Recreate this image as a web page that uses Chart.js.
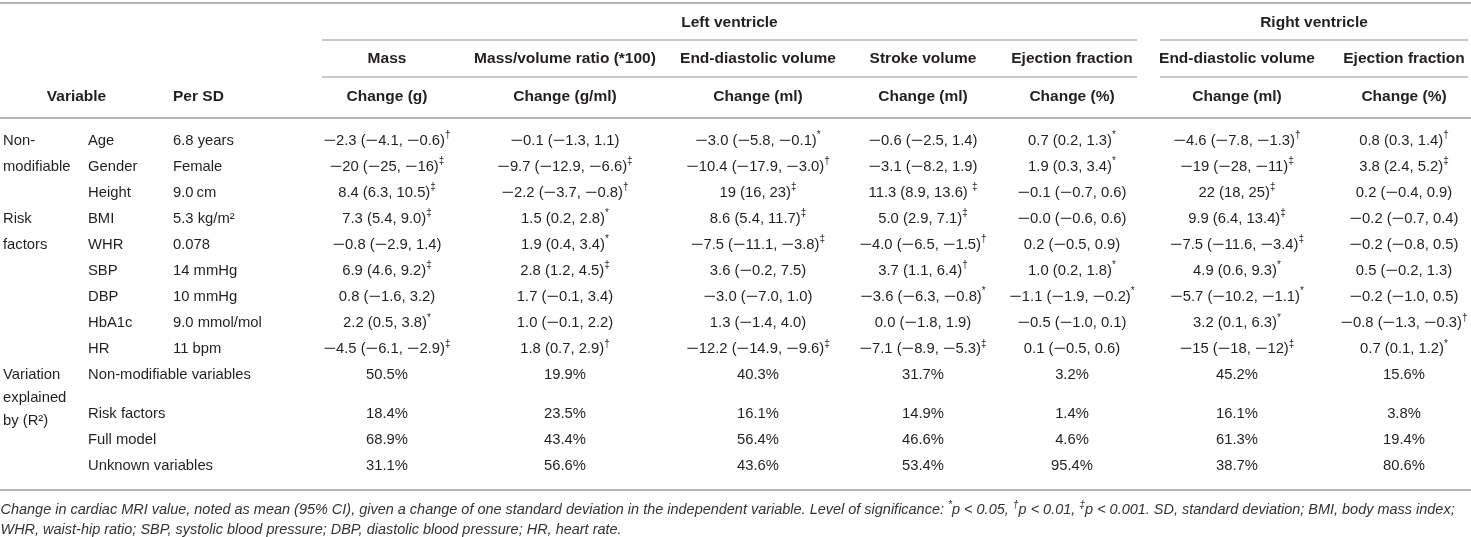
<!DOCTYPE html>
<html>
<head>
<meta charset="utf-8">
<script src="https://cdn.jsdelivr.net/npm/chart.js@4.4.1/dist/chart.umd.min.js"></script>
<style>
  html, body { margin: 0; padding: 0; background: #fff; }
  #wrap { width: 1471px; height: 537px; position: relative; }
</style>
</head>
<body>
<div id="wrap"><canvas id="c"></canvas></div>
<script>
// ---------------- DATA ----------------
const groups = ["Left ventricle", "Right ventricle"];
const measures = ["Mass", "Mass/volume ratio (*100)", "End-diastolic volume", "Stroke volume", "Ejection fraction", "End-diastolic volume", "Ejection fraction"];
const units = ["Change (g)", "Change (g/ml)", "Change (ml)", "Change (ml)", "Change (%)", "Change (ml)", "Change (%)"];
const headVariable = "Variable";
const headPerSD = "Per SD";
const sectionNonMod = ["Non-", "modifiable"];
const sectionRisk = ["Risk", "factors"];
const sectionR2 = ["Variation", "explained", "by (R\u00B2)"];
const variables = ["Age", "Gender", "Height", "BMI", "WHR", "SBP", "DBP", "HbA1c", "HR"];
const perSD = ["6.8 years", "Female", "9.0\u2009cm", "5.3 kg/m\u00B2", "0.078", "14 mmHg", "10 mmHg", "9.0 mmol/mol", "11 bpm"];
const r2Labels = ["Non-modifiable variables", "Risk factors", "Full model", "Unknown variables"];

const lvMass = ["\u22122.3 (\u22124.1, \u22120.6)\u2020", "\u221220 (\u221225, \u221216)\u2021", "8.4 (6.3, 10.5)\u2021", "7.3 (5.4, 9.0)\u2021", "\u22120.8 (\u22122.9, 1.4)", "6.9 (4.6, 9.2)\u2021", "0.8 (\u22121.6, 3.2)", "2.2 (0.5, 3.8)*", "\u22124.5 (\u22126.1, \u22122.9)\u2021"];
const lvMassVol = ["\u22120.1 (\u22121.3, 1.1)", "\u22129.7 (\u221212.9, \u22126.6)\u2021", "\u22122.2 (\u22123.7, \u22120.8)\u2020", "1.5 (0.2, 2.8)*", "1.9 (0.4, 3.4)*", "2.8 (1.2, 4.5)\u2021", "1.7 (\u22120.1, 3.4)", "1.0 (\u22120.1, 2.2)", "1.8 (0.7, 2.9)\u2020"];
const lvEDV = ["\u22123.0 (\u22125.8, \u22120.1)*", "\u221210.4 (\u221217.9, \u22123.0)\u2020", "19 (16, 23)\u2021", "8.6 (5.4, 11.7)\u2021", "\u22127.5 (\u221211.1, \u22123.8)\u2021", "3.6 (\u22120.2, 7.5)", "\u22123.0 (\u22127.0, 1.0)", "1.3 (\u22121.4, 4.0)", "\u221212.2 (\u221214.9, \u22129.6)\u2021"];
const lvSV = ["\u22120.6 (\u22122.5, 1.4)", "\u22123.1 (\u22128.2, 1.9)", "11.3 (8.9, 13.6) \u2021", "5.0 (2.9, 7.1)\u2021", "\u22124.0 (\u22126.5, \u22121.5)\u2020", "3.7 (1.1, 6.4)\u2020", "\u22123.6 (\u22126.3, \u22120.8)*", "0.0 (\u22121.8, 1.9)", "\u22127.1 (\u22128.9, \u22125.3)\u2021"];
const lvEF = ["0.7 (0.2, 1.3)*", "1.9 (0.3, 3.4)*", "\u22120.1 (\u22120.7, 0.6)", "\u22120.0 (\u22120.6, 0.6)", "0.2 (\u22120.5, 0.9)", "1.0 (0.2, 1.8)*", "\u22121.1 (\u22121.9, \u22120.2)*", "\u22120.5 (\u22121.0, 0.1)", "0.1 (\u22120.5, 0.6)"];
const rvEDV = ["\u22124.6 (\u22127.8, \u22121.3)\u2020", "\u221219 (\u221228, \u221211)\u2021", "22 (18, 25)\u2021", "9.9 (6.4, 13.4)\u2021", "\u22127.5 (\u221211.6, \u22123.4)\u2021", "4.9 (0.6, 9.3)*", "\u22125.7 (\u221210.2, \u22121.1)*", "3.2 (0.1, 6.3)*", "\u221215 (\u221218, \u221212)\u2021"];
const rvEF = ["0.8 (0.3, 1.4)\u2020", "3.8 (2.4, 5.2)\u2021", "0.2 (\u22120.4, 0.9)", "\u22120.2 (\u22120.7, 0.4)", "\u22120.2 (\u22120.8, 0.5)", "0.5 (\u22120.2, 1.3)", "\u22120.2 (\u22121.0, 0.5)", "\u22120.8 (\u22121.3, \u22120.3)\u2020", "0.7 (0.1, 1.2)*"];

const r2Mass = ["50.5%", "18.4%", "68.9%", "31.1%"];
const r2MassVol = ["19.9%", "23.5%", "43.4%", "56.6%"];
const r2LvEDV = ["40.3%", "16.1%", "56.4%", "43.6%"];
const r2LvSV = ["31.7%", "14.9%", "46.6%", "53.4%"];
const r2LvEF = ["3.2%", "1.4%", "4.6%", "95.4%"];
const r2RvEDV = ["45.2%", "16.1%", "61.3%", "38.7%"];
const r2RvEF = ["15.6%", "3.8%", "19.4%", "80.6%"];

const footnote1 = "Change in cardiac MRI value, noted as mean (95% CI), given a change of one standard deviation in the independent variable. Level of significance: *p < 0.05, \u2020p < 0.01, \u2021p < 0.001. SD, standard deviation; BMI, body mass index;";
const footnote2 = "WHR, waist-hip ratio; SBP, systolic blood pressure; DBP, diastolic blood pressure; HR, heart rate.";

// ---------------- LAYOUT (positions / styles) ----------------
const W = 1471, H = 537;
const colX = [387, 565, 758, 923, 1072, 1237, 1404];
const groupSpan = [[322, 1137], [1160, 1468]];
const xSection = 3, xVar = 88, xPerSD = 173, xVarHead = 76.5;
const yGroup = 22.5, yGroupLine = 40, yMeasure = 59, yMeasureLine = 77, yUnit = 97, yHeadLine = 118;
const yTop = 3, yBottom = 490;
const rowY = [140.5, 166.5, 192.5, 218.5, 244.5, 270.5, 296.5, 323, 349];
const r2RowY = [375, 414, 439.5, 466];
const sectionNonModY = [140.5, 166.5];
const sectionRiskY = [218.5, 244.5];
const sectionR2Y = [375, 398, 420.5];
const footY = [509.5, 529.5];

const FONT = '"Liberation Sans", Arial, Helvetica, sans-serif';
const TEXT = '#231f20';
const RULE = '#b4b4b4';
const bodyPx = 14.8, supPx = 10, headPx = 15.5;
const MINUS_STRETCH = 1.45;

const valueCols = [lvMass, lvMassVol, lvEDV, lvSV, lvEF, rvEDV, rvEF];
const r2Cols = [r2Mass, r2MassVol, r2LvEDV, r2LvSV, r2LvEF, r2RvEDV, r2RvEF];

// build datasets from arrays
const datasets = [];
valueCols.forEach((col, c) => {
  const pts = col.map((t, i) => ({ x: colX[c], y: rowY[i], t }));
  r2Cols[c].forEach((t, i) => pts.push({ x: colX[c], y: r2RowY[i], t }));
  datasets.push({ label: measures[c], data: pts, align: 'center', pointRadius: 0 });
});
datasets.push({ label: 'variables', data: variables.map((t, i) => ({ x: xVar, y: rowY[i], t })).concat(r2Labels.map((t, i) => ({ x: xVar, y: r2RowY[i], t }))), align: 'left', pointRadius: 0 });
datasets.push({ label: 'perSD', data: perSD.map((t, i) => ({ x: xPerSD, y: rowY[i], t })), align: 'left', pointRadius: 0 });
datasets.push({ label: 'sections', data: []
  .concat(sectionNonMod.map((t, i) => ({ x: xSection, y: sectionNonModY[i], t })))
  .concat(sectionRisk.map((t, i) => ({ x: xSection, y: sectionRiskY[i], t })))
  .concat(sectionR2.map((t, i) => ({ x: xSection, y: sectionR2Y[i], t }))), align: 'left', pointRadius: 0 });

const SUPS = new Set(['*', '\u2020', '\u2021']);
function kindOf(ch) { return SUPS.has(ch) ? 'sup' : (ch === '\u2212' ? 'minus' : 'main'); }
function segments(text) {
  const segs = [];
  for (const ch of text) {
    const k = kindOf(ch);
    if (segs.length && segs[segs.length - 1].k === k && k !== 'minus') segs[segs.length - 1].s += ch;
    else segs.push({ s: ch, k });
  }
  return segs;
}
function drawRich(ctx, text, x, y, align, style, size, sSize, stretch) {
  const segs = segments(text);
  const main = style + ' ' + size + 'px ' + FONT;
  const sup = style + ' ' + sSize + 'px ' + FONT;
  let total = 0;
  segs.forEach(g => {
    ctx.font = g.k === 'sup' ? sup : main;
    g.w = ctx.measureText(g.s).width * (g.k === 'minus' ? stretch : 1);
    total += g.w;
  });
  let cx = align === 'center' ? x - total / 2 : x;
  ctx.textAlign = 'left';
  segs.forEach(g => {
    ctx.font = g.k === 'sup' ? sup : main;
    if (g.k === 'minus') {
      ctx.save();
      ctx.translate(cx, y);
      ctx.scale(stretch, 1);
      ctx.fillText(g.s, 0, 0);
      ctx.restore();
    } else {
      ctx.fillText(g.s, cx, g.k === 'sup' ? y - size * 0.33 : y);
    }
    cx += g.w;
  });
}

const tablePlugin = {
  id: 'table',
  beforeDraw(chart) {
    const ctx = chart.ctx;
    ctx.save();
    ctx.fillStyle = '#fff';
    ctx.fillRect(0, 0, chart.width, chart.height);
    ctx.restore();
  },
  afterDatasetsDraw(chart) {
    const ctx = chart.ctx;
    const sx = chart.scales.x, sy = chart.scales.y;
    const X = v => sx.getPixelForValue(v), Y = v => sy.getPixelForValue(v);
    ctx.save();
    // rules
    ctx.strokeStyle = RULE;
    const hline = (x0, x1, y, w) => { ctx.lineWidth = w; ctx.beginPath(); ctx.moveTo(X(x0), Y(y)); ctx.lineTo(X(x1), Y(y)); ctx.stroke(); };
    hline(0, W, yTop, 2);
    hline(0, W, yHeadLine, 2);
    hline(0, W, yBottom, 2);
    groupSpan.forEach(([a, b]) => { hline(a, b, yGroupLine, 1.4); hline(a, b, yMeasureLine, 1.4); });

    ctx.fillStyle = TEXT;
    ctx.textBaseline = 'middle';
    // header text
    ctx.font = 'bold ' + headPx + 'px ' + FONT;
    ctx.textAlign = 'center';
    groups.forEach((g, i) => ctx.fillText(g, X((groupSpan[i][0] + groupSpan[i][1]) / 2), Y(yGroup)));
    measures.forEach((m, c) => ctx.fillText(m, X(colX[c]), Y(yMeasure)));
    units.forEach((u, c) => ctx.fillText(u, X(colX[c]), Y(yUnit)));
    ctx.fillText(headVariable, X(xVarHead), Y(yUnit));
    ctx.textAlign = 'left';
    ctx.fillText(headPerSD, X(xPerSD), Y(yUnit));

    // body cells, positioned by the library's elements
    chart.data.datasets.forEach((ds, di) => {
      const meta = chart.getDatasetMeta(di);
      meta.data.forEach((el, i) => {
        drawRich(ctx, ds.data[i].t, el.x, el.y, ds.align, 'normal', bodyPx, supPx, MINUS_STRETCH);
      });
    });

    // footnote
    ctx.fillStyle = '#333';
    let fpx = 14;
    ctx.font = 'italic ' + fpx + 'px ' + FONT;
    const target = 1462;
    const w1 = ctx.measureText(footnote1).width;
    fpx = fpx * target / w1;
    drawRich(ctx, footnote1, X(0.5), Y(footY[0]), 'left', 'italic', fpx, fpx * 0.72, 1);
    drawRich(ctx, footnote2, X(0.5), Y(footY[1]), 'left', 'italic', fpx, fpx * 0.72, 1);
    ctx.restore();
  }
};

new Chart(document.getElementById('c'), {
  type: 'scatter',
  data: { datasets },
  options: {
    responsive: true,
    maintainAspectRatio: false,
    animation: false,
    events: [],
    layout: { padding: 0 },
    plugins: { legend: { display: false }, tooltip: { enabled: false } },
    scales: {
      x: { type: 'linear', min: 0, max: W, display: false },
      y: { type: 'linear', min: 0, max: H, reverse: true, display: false }
    }
  },
  plugins: [tablePlugin]
});
</script>
</body>
</html>
